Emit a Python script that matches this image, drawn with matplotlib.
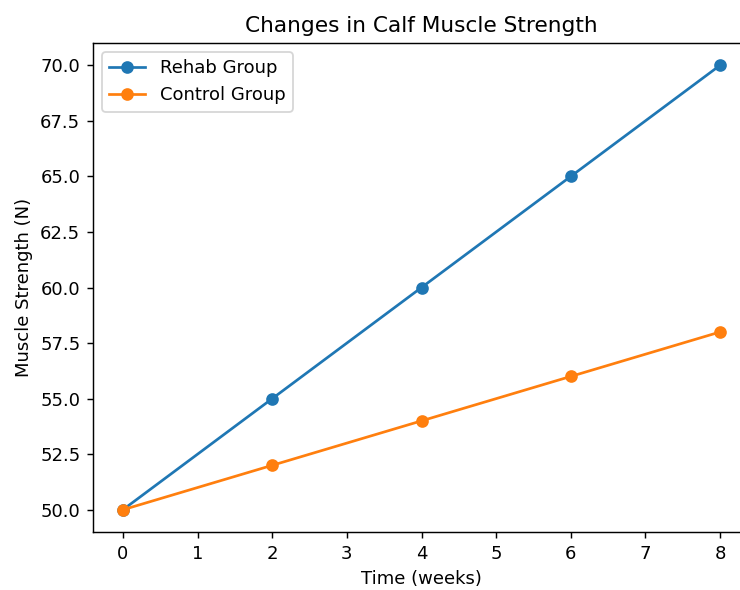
import matplotlib
matplotlib.use('Agg')
from matplotlib import pyplot as plt

weeks = [0, 2, 4, 6, 8]
rehab = [50, 55, 60, 65, 70]
control = [50, 52, 54, 56, 58]

# the reference looks like a crop of a larger render, right edge cut off
dpi = 130
fig = plt.figure(figsize=(740 / dpi, 590 / dpi), dpi=dpi)
ax = fig.add_axes([93 / 740, 1 - 532 / 590, (750 - 93) / 740, (532 - 43) / 590])
ax.plot(weeks, rehab, marker='o', label='Rehab Group')
ax.plot(weeks, control, marker='o', label='Control Group')
ax.set_title('Changes in Calf Muscle Strength')
ax.set_xlabel('Time (weeks)')
ax.set_ylabel('Muscle Strength (N)')
ax.legend(loc='upper left')
fig.savefig('out.png', dpi=dpi)
